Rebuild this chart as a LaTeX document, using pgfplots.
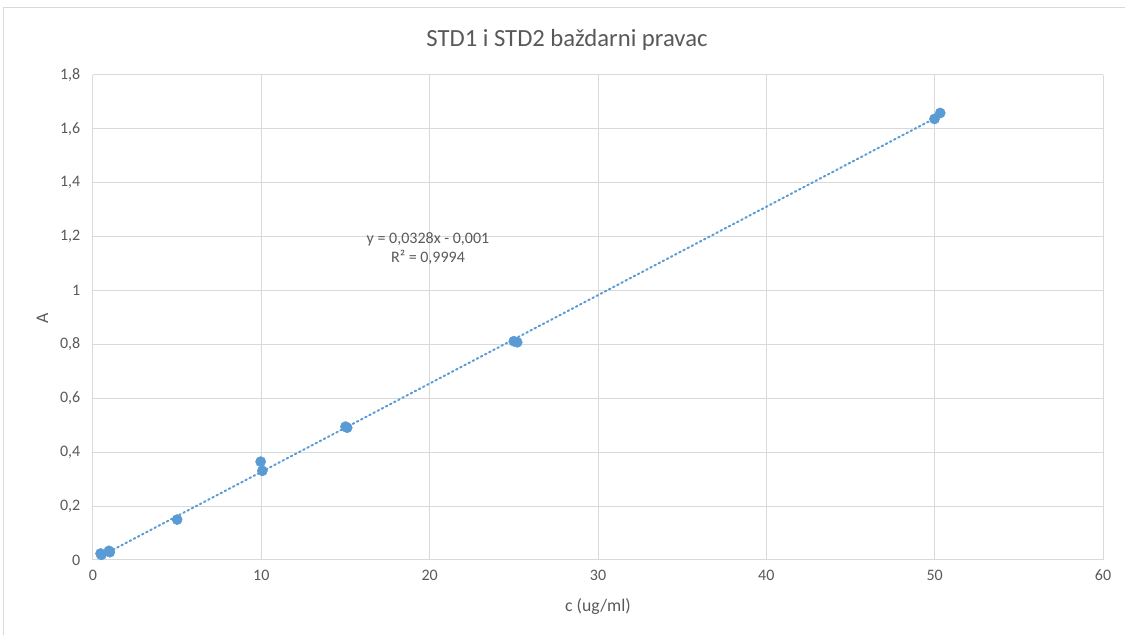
\documentclass[border=0pt]{standalone}
\usepackage{pgfplots}
\pgfplotsset{compat=1.18}
\usepackage{fontspec}
\setmainfont{Carlito}
\definecolor{pt}{HTML}{5B9BD5}
\definecolor{gridc}{HTML}{D9D9D9}
\definecolor{txt}{HTML}{595959}
\begin{document}
\begin{tikzpicture}
\useasboundingbox (-69.75pt,-56.25pt) rectangle (774pt,420pt);
\draw[gridc, line width=0.75pt] (-66.75pt,-56.25pt) -- (-66.75pt,414pt) -- (774pt,414pt);
\begin{axis}[
    at={(0pt,0pt)}, anchor=south west,
    scale only axis,
    width=757.5pt, height=363.75pt,
    xmin=0, xmax=60, ymin=0, ymax=1.8,
    xtick={0,10,...,60},
    ytick={0,0.2,...,1.8},
    grid=major,
    grid style={gridc, line width=0.75pt},
    axis line style={draw=none},
    major tick length=0pt,
    tick label style={font=\fontsize{12}{14}\selectfont, text=txt},
    xticklabel style={yshift=-4pt},
    yticklabel style={xshift=-6pt},
    /pgf/number format/.cd, use comma, fixed, assume math mode=true,
]
\addplot[pt, line width=1.5pt, dash pattern=on 1.2pt off 2.3pt, line cap=round] coordinates {
  (0.46, 0.0141)
  (50.33, 1.6498)
};
\addplot[only marks, mark=*, mark size=3.8pt, pt, mark options={draw=pt, fill=pt}] coordinates {
  (0.5, 0.019)
  (0.45, 0.024)
  (1.0, 0.029)
  (0.95, 0.034)
  (5.0, 0.150)
  (9.96, 0.365)
  (10.06, 0.331)
  (15.0, 0.495)
  (15.1, 0.491)
  (25.0, 0.812)
  (25.2, 0.808)
  (49.99, 1.637)
  (50.33, 1.659)
};
\node[txt, font=\fontsize{12}{14.5}\selectfont, align=center] at (axis cs:19.9,1.155) {y = 0,0328x - 0,001\\R² = 0,9994};
\end{axis}
\node[txt, font=\fontsize{18.5}{22}\selectfont] at (355.5pt,390pt) {STD1 i STD2 baždarni pravac};
\node[txt, font=\fontsize{13.3}{16}\selectfont] at (378.75pt,-35.25pt) {c (ug/ml)};
\node[txt, font=\fontsize{13.3}{16}\selectfont, rotate=90] at (-38pt,181.5pt) {A};
\end{tikzpicture}
\end{document}
